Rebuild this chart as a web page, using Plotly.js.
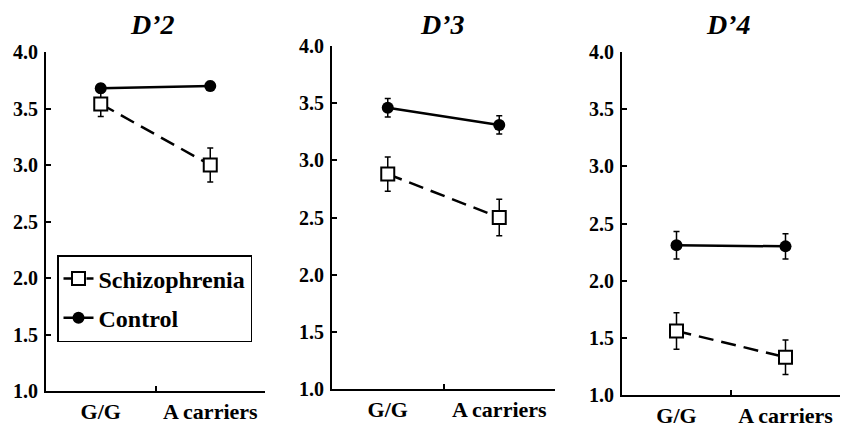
<!DOCTYPE html>
<html><head><meta charset="utf-8">
<script src="https://cdn.plot.ly/plotly-3.0.1.min.js"></script></head>
<body style="margin:0"><div id="c" style="width:841px;height:437px"></div>
<script>
// ---- data ----
const panelTitles = ["D\u20192", "D\u20193", "D\u20194"];
const genotypes = ["G/G", "A carriers"];
const seriesNames = ["Schizophrenia", "Control"];
const schMeans = [[3.54, 3.00], [2.88, 2.50], [1.56, 1.33]];
const schErrors = [[0.11, 0.15], [0.15, 0.16], [0.16, 0.15]];
const ctlMeans = [[3.68, 3.70], [3.46, 3.31], [2.31, 2.30]];
const ctlErrors = [[0.04, 0.04], [0.08, 0.08], [0.12, 0.11]];
const yTicks = [1.0, 1.5, 2.0, 2.5, 3.0, 3.5, 4.0];

// ---- layout geometry ----
const W = 841, H = 437;
const xDomains = [[46, 265], [332, 555], [622, 840]];
const yDomains = [[52, 391], [46, 389], [52, 395]];
const titleX = [152, 442, 728];
const fam = "Liberation Serif";
const bold = s => "<b>" + s + "</b>";

const traces = [];
const layout = {
  width: W, height: H,
  margin: {l: 0, r: 0, t: 0, b: 0},
  paper_bgcolor: "#fff", plot_bgcolor: "#fff",
  font: {family: fam, color: "#000"},
  showlegend: true,
  legend: {
    x: 57 / W, y: 1 - 255 / H, xanchor: "left", yanchor: "top",
    bordercolor: "#000", borderwidth: 1.5, bgcolor: "#fff",
    font: {family: fam, size: 24, color: "#000"},
    traceorder: "grouped", tracegroupgap: 5,
    itemwidth: 30
  },
  annotations: []
};

for (let p = 0; p < 3; p++) {
  const sfx = p === 0 ? "" : String(p + 1);
  const xa = "x" + sfx, ya = "y" + sfx;
  traces.push({
    type: "scatter", mode: "lines+markers",
    x: genotypes, y: schMeans[p], xaxis: xa, yaxis: ya,
    name: bold(seriesNames[0]), legendgroup: "sch", showlegend: p === 0,
    line: {color: "#000", width: 2.5, dash: "15px,8px"},
    marker: {symbol: "square", size: 13, color: "#fff", line: {color: "#000", width: 2}},
    error_y: {type: "data", array: schErrors[p], visible: true, color: "#000", thickness: 1.5, width: 3}
  });
  traces.push({
    type: "scatter", mode: "lines+markers",
    x: genotypes, y: ctlMeans[p], xaxis: xa, yaxis: ya,
    name: bold(seriesNames[1]), legendgroup: "ctl", showlegend: p === 0,
    line: {color: "#000", width: 2.5},
    marker: {symbol: "circle", size: 12, color: "#000"},
    error_y: {type: "data", array: ctlErrors[p], visible: true, color: "#000", thickness: 1.5, width: 3}
  });
  layout["xaxis" + sfx] = {
    domain: [xDomains[p][0] / W, xDomains[p][1] / W],
    anchor: ya, type: "category", range: [-0.5, 1.5],
    tickvals: genotypes, ticktext: genotypes.map(bold),
    showline: true, linecolor: "#000", linewidth: 2,
    ticks: "inside", tickson: "boundaries", ticklen: 5, tickwidth: 2, tickcolor: "#000",
    showgrid: false, zeroline: false, fixedrange: true,
    tickfont: {family: fam, size: 22, color: "#000"},
    ticklabelstandoff: 0
  };
  layout["yaxis" + sfx] = {
    domain: [1 - yDomains[p][1] / H, 1 - yDomains[p][0] / H],
    anchor: xa, range: [1, 4],
    tickvals: yTicks, ticktext: yTicks.map(v => bold(v.toFixed(1))),
    showline: true, linecolor: "#000", linewidth: 2,
    ticks: "inside", ticklen: 5, tickwidth: 2, tickcolor: "#000",
    showgrid: false, zeroline: false, fixedrange: true,
    tickfont: {family: fam, size: 20, color: "#000"},
    ticklabelstandoff: 2
  };
  layout.annotations.push({
    text: "<b><i>" + panelTitles[p] + "</i></b>",
    xref: "paper", yref: "paper",
    x: titleX[p] / W, y: 1 - 24 / H, xanchor: "center", yanchor: "middle",
    showarrow: false,
    font: {family: fam, size: 28, color: "#000"}
  });
}

Plotly.newPlot("c", traces, layout, {displayModeBar: false});
</script></body></html>
